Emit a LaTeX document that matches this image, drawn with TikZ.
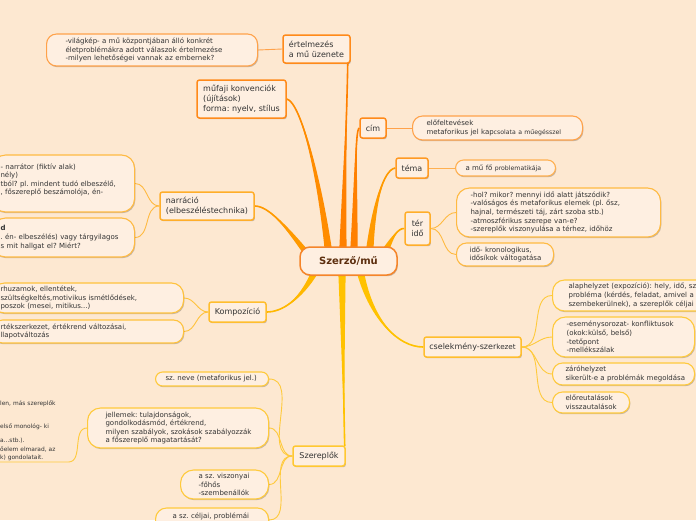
\documentclass[tikz,border=0pt]{standalone}
\usepackage{fontspec}
\newfontfamily\dv{DejaVu Sans}
\usetikzlibrary{calc,shadows,backgrounds}
\frenchspacing
\definecolor{bg}{HTML}{FDE8D1}
\definecolor{nodefill}{HTML}{FEEFE1}
\definecolor{txt}{HTML}{333333}
\definecolor{ctrtxt}{HTML}{5C2E0E}
\definecolor{ctrb}{HTML}{F5852A}
\definecolor{ca}{HTML}{FF8A1A}
\definecolor{cb}{HTML}{FF9A24}
\definecolor{cc}{HTML}{FFAE2A}
\definecolor{cd}{HTML}{FFBE2E}
\definecolor{ce}{HTML}{FFC832}
\definecolor{la}{HTML}{FFA24A}
\definecolor{lb}{HTML}{FFB050}
\definecolor{lc}{HTML}{FFBA42}
\definecolor{ld}{HTML}{FFC23C}
\definecolor{le}{HTML}{FFCA3C}
\definecolor{ba}{HTML}{FF8000}
\definecolor{bb}{HTML}{FF8C00}
\definecolor{bc}{HTML}{FF9A00}
\definecolor{bd}{HTML}{FFA800}
\definecolor{be}{HTML}{FFB800}
\definecolor{bf}{HTML}{FFC200}
\newcommand\lfont{\dv\fontsize{7}{8.6}\selectfont}
\newcommand\onefont{\dv\fontsize{8}{10}\selectfont}
\newcommand\sfont{\fontsize{6.2}{8.6}\selectfont}
\newcommand\jfont{\dv\fontsize{5.9}{8.3}\selectfont}
\newcommand\branch[5]{%
  \fill[#1] ($#2+(-3.6,0)$) .. controls ($#3+(-1.6,0)$) and #4 .. #5 .. controls #4 and ($#3+(1.6,0)$) .. ($#2+(3.6,0)$) -- cycle;
  \draw[#1,line width=1.6pt] #2 .. controls #3 and #4 .. #5;}
\tikzset{
  shd/.style={drop shadow={shadow xshift=0.8pt,shadow yshift=-1.2pt,opacity=0.22,fill=black}},
  lone/.style={draw=#1, line width=1.5pt, rounded corners=2.5pt, fill=nodefill, text=txt, font=\onefont, align=left, inner sep=0pt, shd},
  lf/.style={draw=#1, line width=1.1pt, rounded corners=10pt, fill=nodefill, text=txt, font=\lfont, align=left, inner ysep=0pt, anchor=west, shd},
  lk/.style={draw=#1, line width=0.9pt},
}
\begin{document}
\begin{tikzpicture}[x=1pt,y=-1pt]
\useasboundingbox (0,0) rectangle (696,520);
\clip (0,0) rectangle (696,520);
% central node
\node[draw=ctrb, line width=1.5pt, rounded corners=10pt, fill=nodefill, minimum width=97pt, minimum height=28pt, font=\dv\bfseries\fontsize{10}{12}\selectfont, text=ctrtxt, shd] (ctr) at (348.5,261) {Szerző/mű};
% first level
\node[lone=ca, minimum width=67pt, minimum height=28pt] (ert) at (316.5,49) {értelmezés\\a mű üzenete};
\node[lone=ca, minimum width=89pt, minimum height=38pt] (muf) at (241.5,99) {műfaji konvenciók\\(újítások)\\forma: nyelv, stílus};
\node[lone=ca, minimum width=26pt, minimum height=20pt] (cim) at (373,128) {cím};
\node[lone=cb, minimum width=32pt, minimum height=20pt] (tema) at (412,168) {téma};
\node[lone=cc, minimum width=25pt, minimum height=33pt, align=center] (ter) at (417.5,228.5) {tér\\idő};
\node[lone=cc, minimum width=94pt, minimum height=28pt] (narr) at (207,206) {narráció\\(elbeszéléstechnika)};
\node[lone=cd, minimum width=57pt, minimum height=20pt] (komp) at (237.5,312) {Kompozíció};
\node[lone=cd, minimum width=97pt, minimum height=20pt] (csel) at (472.5,347) {cselekmény-szer{\fontsize{7.2}{10}\selectfont kezet}};
\node[lone=ce, minimum width=52pt, minimum height=20pt] (szer) at (319,456) {Szereplők};
% leaves
\node[lf=la, minimum width=211pt, minimum height=32pt, inner xsep=19pt, text width=173pt] (ertL) at (46,50) {\mbox{-világkép- a mű központjában álló konkrét}\\\mbox{életproblémákra adott válaszok értelmezése}\\\mbox{-milyen lehetőségei vannak az embernek?}};
\node[lf=la, minimum width=170pt, minimum height=24pt, inner xsep=14pt, text width=142pt] (cimL) at (412,128) {\mbox{előfeltevések}\\\mbox{metaforikus jel kap{\sfont csolata a műegésszel}}};
\node[lf=lb, rounded corners=8pt, minimum width=100pt, minimum height=16pt, inner xsep=10pt, text width=80pt] (temaL) at (455,168) {\mbox{a mű fő {\sfont problematikája}}};
\node[lf=lc, rounded corners=13pt, minimum width=204pt, minimum height=49pt, inner xsep=14pt, text width=176pt] (terL1) at (456,212.5) {\mbox{-hol? mikor? mennyi idő alatt játszódik?}\\\mbox{-valóságos és metaforikus elemek (pl. ősz,}\\\mbox{hajnal, természeti táj, zárt szoba stb.)}\\\mbox{-atmoszférikus szerepe van-e?}\\\mbox{-szereplők viszonyulása a térhez, időhöz}};
\node[lf=lc, minimum width=97pt, minimum height=23pt, inner xsep=13pt, text width=71pt] (terL2) at (456,254.5) {\mbox{idő- kronologikus,}\\\mbox{idősíkok váltogatása}};
\node[lf=lc, rounded corners=13pt, minimum width=142pt, minimum height=57pt, inner xsep=8pt, text width=126pt] (narrL1) at (-8,183.5) {\mbox{- narrátor (fiktív alak)}\\\mbox{nély)}\\\mbox{tból? pl. mindent tudó elbeszélő,}\\\mbox{, főszereplő beszámolója, én-}\\\mbox{}};
\node[lf=lc, rounded corners=13pt, minimum width=142pt, minimum height=39pt, inner xsep=8pt, text width=126pt] (narrL2) at (-8,237.5) {\mbox{\textbf{d}}\\\mbox{. én- elbeszélés) vagy tárgyilagos}\\\mbox{s mit hallgat el? Miért?}};
\node[lf=ld, rounded corners=12pt, minimum width=191pt, minimum height=30pt, inner xsep=8pt, text width=175pt] (kompL1) at (-8,298) {\mbox{rhuzamok, ellentétek,}\\\mbox{szültségkeltés,motivikus ismétlődések,}\\\mbox{poszok (mesei, mitikus...)}};
\node[lf=ld, minimum width=191pt, minimum height=23pt, inner xsep=8pt, text width=175pt] (kompL2) at (-8,331.5) {\mbox{rtékszerkezet, értékrend változásai,}\\\mbox{llapotváltozás}};
\node[lf=le, rounded corners=12pt, minimum width=190pt, minimum height=31pt, inner xsep=16pt, text width=158pt] (cselL1) at (552,295.5) {\mbox{alaphelyzet (expozíció): hely, idő, sz}\\\mbox{probléma (kérdés, feladat, amivel a}\\\mbox{szembekerülnek), a szereplők céljai}};
\node[lf=le, rounded corners=13pt, minimum width=142pt, minimum height=40pt, inner xsep=14pt, text width=114pt] (cselL2) at (552,337) {\mbox{-eseménysorozat- konfliktusok}\\\mbox{(okok:külső, belső)}\\\mbox{-tetőpont}\\\mbox{-mellékszálak}};
\node[lf=le, minimum width=142pt, minimum height=22pt, inner xsep=13pt, text width=116pt] (cselL3) at (552,374) {\mbox{záróhelyzet}\\\mbox{sikerült-e a problémák megoldása}};
\node[lf=le, minimum width=77pt, minimum height=21pt, inner xsep=13pt, text width=51pt] (cselL4) at (552,402.5) {\mbox{előreutalások}\\\mbox{visszautalások}};
\node[lf=le, rounded corners=7pt, minimum width=113pt, minimum height=14pt, inner xsep=10pt, text width=93pt] (szL1) at (155,379) {\mbox{sz. neve (metaforikus jel.)}};
\node[lf=le, rounded corners=13pt, minimum width=181pt, minimum height=40pt, inner xsep=18pt, text width=145pt] (szL2) at (87,428) {\mbox{jellemek: tulajdonságok,}\\\mbox{gondolkodásmód, értékrend,}\\\mbox{milyen szabályok, szokások szabályozzák}\\\mbox{a főszereplő magatartását?}};
\node[lf=le, rounded corners=13pt, minimum width=88pt, minimum height=29pt, inner xsep=18pt, text width=52pt] (szL3) at (180,484.5) {\mbox{a sz. viszonyai}\\\mbox{-főhős}\\\mbox{-szembenállók}};
\node[lf=le, rounded corners=11pt, minimum width=113pt, minimum height=24pt, inner xsep=17pt, text width=79pt] (szL4) at (155,520) {\mbox{a sz. céljai, problémái}\\\mbox{}};
\node[font=\jfont, text=txt, anchor=south west, inner xsep=0pt, inner ysep=1pt, text width=68pt, align=left] (jell) at (0,462) {\mbox{len, más szereplők}\\[14.7pt]\mbox{első monológ- ki}\\[5.7pt]\mbox{a...stb.).}\\\mbox{őelem elmarad, az}\\\mbox{k) gondolatait.}};
% connectors
\begin{pgfonlayer}{background}
\fill[bg] (0,0) rectangle (696,520);
\coordinate (sErt) at ($(ctr.north)+(-5.5,1)$);
\coordinate (sCim) at ($(ctr.north)+(5.5,1)$);
\coordinate (sTema) at ($(ctr.north)+(21.5,1)$);
\coordinate (sTer) at ($(ctr.north)+(37.5,3)$);
\coordinate (sMuf) at ($(ctr.north)+(-20.5,1)$);
\coordinate (sNarr) at ($(ctr.north west)+(6,5)$);
\coordinate (sKomp) at ($(ctr.south)+(-34.5,-2)$);
\coordinate (sSzer) at ($(ctr.south)+(-6.5,-1)$);
\coordinate (sCsel) at ($(ctr.south)+(12.5,-1)$);
\coordinate (eErt) at ($(ert.south east)+(-3,-1)$);
\coordinate (eSzer) at ($(szer.north east)+(-1,1)$);
\branch{ba}{(sErt)}{(344,180)}{(347,110)}{(eErt)}
\branch{ba}{(sCim)}{(356,180)}{(355,130)}{(cim.west)}
\branch{bc}{(sTema)}{(374,205)}{(383,170)}{(tema.west)}
\branch{bd}{(sTer)}{(392,238)}{(398,228)}{(ter.west)}
\branch{bb}{(sMuf)}{(318,170)}{(300,102)}{(muf.east)}
\branch{bc}{(sNarr)}{(285,225)}{(268,206)}{(narr.east)}
\branch{be}{(sKomp)}{(300,300)}{(282,312)}{(komp.east)}
\branch{bf}{(sSzer)}{(343,350)}{(344,420)}{(eSzer)}
\branch{bf}{(sCsel)}{(372,320)}{(398,347)}{(csel.west)}
\draw[lk=la] (ert.west) -- (ertL.east);
\draw[lk=la] (cim.east) -- (cimL.west);
\draw[lk=lb] (tema.east) -- (temaL.west);
\draw[lk=lc] (ter.east) to[out=0,in=180] (terL1.west);
\draw[lk=lc] (ter.east) to[out=0,in=180] (terL2.west);
\draw[lk=lc] (narr.west) to[out=180,in=0] (narrL1.east);
\draw[lk=lc] (narr.west) to[out=180,in=0] (narrL2.east);
\draw[lk=ld] (komp.west) to[out=180,in=0] (kompL1.east);
\draw[lk=ld] (komp.west) to[out=180,in=0] (kompL2.east);
\draw[lk=le] (csel.east) to[out=0,in=180] (cselL1.west);
\draw[lk=le] (csel.east) to[out=0,in=180] (cselL2.west);
\draw[lk=le] (csel.east) to[out=0,in=180] (cselL3.west);
\draw[lk=le] (csel.east) to[out=0,in=180] (cselL4.west);
\draw[lk=le] (szer.west) to[out=180,in=0] (szL1.east);
\draw[lk=le] (szer.west) to[out=180,in=0] (szL2.east);
\draw[lk=le] (szer.west) to[out=180,in=0] (szL3.east);
\draw[lk=le] (szer.west) to[out=180,in=0] (szL4.east);
\draw[lk=le] (szL2.west) to[out=180,in=0] (jell.south east) -- (jell.south west);
\end{pgfonlayer}
\end{tikzpicture}
\end{document}
